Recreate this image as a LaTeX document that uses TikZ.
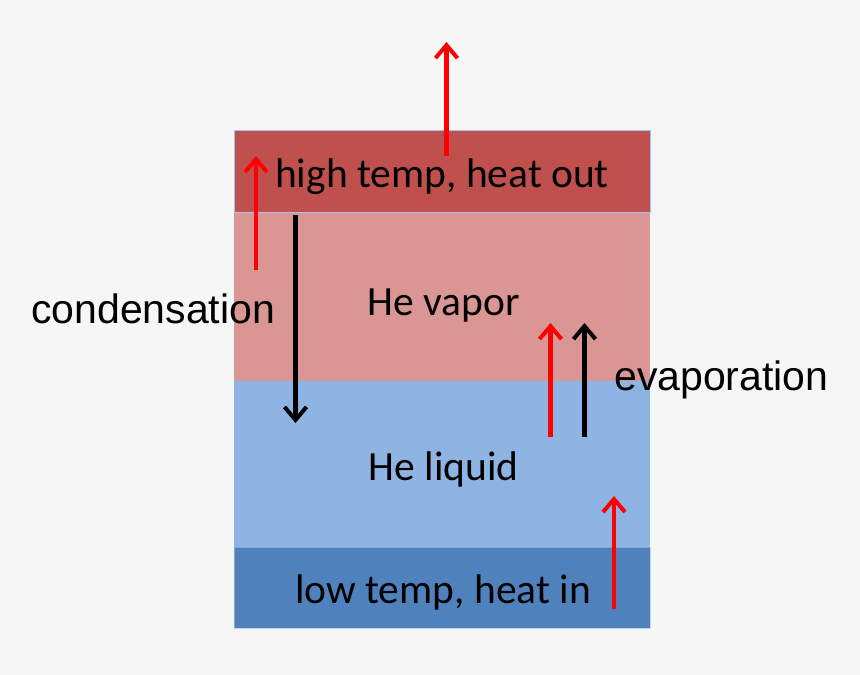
\documentclass[tikz,border=0pt]{standalone}
\usepackage{fontspec}
\setmainfont{Carlito}
\newfontfamily\arialfont{Liberation Sans}
\usetikzlibrary{arrows.meta}
\definecolor{bgc}{HTML}{F6F6F6}
\definecolor{topc}{HTML}{C0504D}
\definecolor{vapc}{HTML}{D99694}
\definecolor{liqc}{HTML}{8EB4E3}
\definecolor{botc}{HTML}{4F81BD}
\definecolor{edgec}{HTML}{A9C0E6}
\definecolor{arrred}{HTML}{FF0000}
\tikzset{
  band/.style={draw=edgec, line width=1pt},
  boxtext/.style={anchor=base west, inner sep=0pt, font=\fontsize{41.5}{41.5}\selectfont},
  sidetext/.style={anchor=base west, inner sep=0pt, font=\arialfont\fontsize{41}{41}\selectfont},
  flow/.style={line width=4.5pt, -{Straight Barb[length=13pt,width=22pt,line width=4pt]}},
  redflow/.style={flow, draw=arrred},
  blackflow/.style={flow, draw=black},
}
\begin{document}
\begin{tikzpicture}[x=1pt,y=-1pt]
\fill[bgc] (0,0) rectangle (860,675);
\useasboundingbox (0,0) rectangle (860,675);
% bands
\path[fill=vapc] (234,212) rectangle (650,381);
\path[fill=liqc] (234,381) rectangle (650,547);
\path[band, fill=botc, draw opacity=0.6] (234,547) rectangle (650,628);
\path[band, fill=topc] (234,130) rectangle (650,212);
% texts
\node[boxtext] (hot) at (275,187) {high temp, heat out};
\node[boxtext] (vap) at (367.5,315) {He vapor};
\node[boxtext] (liq) at (368.5,480) {He liquid};
\node[boxtext] (cold) at (295,603) {low temp, heat in};
\node[sidetext] (cond) at (31,323) {condensation};
\node[sidetext] (evap) at (614,390) {evaporation};
% arrow end points
\coordinate (a1s) at (446.5,156);
\coordinate (a1e) at (446.5,42);
\coordinate (a2s) at (256,270);
\coordinate (a2e) at (256,156);
\coordinate (a3s) at (295.5,215);
\coordinate (a3e) at (295.5,423);
\coordinate (a4s) at (550.5,437);
\coordinate (a4e) at (550.5,323);
\coordinate (a5s) at (584.5,437);
\coordinate (a5e) at (584.5,323);
\coordinate (a6s) at (614,609);
\coordinate (a6e) at (614,496);
\draw[redflow] (a1s) -- (a1e);
\draw[redflow] (a2s) -- (a2e);
\draw[blackflow] (a3s) -- (a3e);
\draw[redflow] (a4s) -- (a4e);
\draw[blackflow] (a5s) -- (a5e);
\draw[redflow] (a6s) -- (a6e);
\end{tikzpicture}
\end{document}
